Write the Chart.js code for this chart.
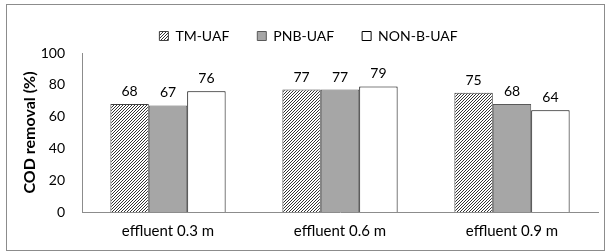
<!DOCTYPE html>
<html>
<head>
<meta charset="utf-8">
<script src="https://cdn.jsdelivr.net/npm/chart.js@4"></script>
<style>
  body { margin: 0; background: #fff; }
  #frame { position: absolute; left: 6px; top: 4px; width: 597px; height: 245px; border: 1px solid #8c8c8c; }
  #wrap { position: absolute; left: 0; top: 0; width: 610px; height: 252px; }
</style>
</head>
<body>
<div id="frame"></div>
<div id="wrap"><canvas id="c" width="610" height="252"></canvas></div>
<script>
const categories = ["effluent 0.3 m", "effluent 0.6 m", "effluent 0.9 m"];
const seriesNames = ["TM-UAF", "PNB-UAF", "NON-B-UAF"];
const tmUaf = [68, 77, 75];
const pnbUaf = [67, 77, 68];
const nonBUaf = [76, 79, 64];
const yTicks = [0, 20, 40, 60, 80, 100];

const FONT = "Lato, 'Open Sans', sans-serif";

// fine diagonal hatch for the first series
function hatch() {
  const p = document.createElement("canvas");
  p.width = 3; p.height = 3;
  const g = p.getContext("2d");
  g.fillStyle = "#fff"; g.fillRect(0, 0, 3, 3);
  g.fillStyle = "#333";
  for (let x = 0; x < 3; x++) for (let y = 0; y < 3; y++) {
    if ((x + y) % 3 == 2) g.fillRect(x, y, 1, 1);
  }
  return g.createPattern(p, "repeat");
}

// value labels above bars
const barLabels = {
  id: "barLabels",
  afterDatasetsDraw(chart) {
    const ctx = chart.ctx;
    ctx.save();
    ctx.font = "14px " + FONT;
    ctx.fillStyle = "#000";
    ctx.textAlign = "center";
    ctx.textBaseline = "alphabetic";
    chart.data.datasets.forEach((ds, i) => {
      chart.getDatasetMeta(i).data.forEach((bar, j) => {
        ctx.fillText(ds.data[j], bar.x, bar.y - 8);
      });
    });
    ctx.restore();
  }
};

const ctx = document.getElementById("c").getContext("2d");
new Chart(ctx, {
  type: "bar",
  data: {
    labels: categories,
    datasets: [
      { label: seriesNames[0], data: tmUaf, backgroundColor: hatch(), borderColor: "#404040", borderWidth: 1 },
      { label: seriesNames[1], data: pnbUaf, backgroundColor: "#a6a6a6", borderColor: "#595959", borderWidth: 1 },
      { label: seriesNames[2], data: nonBUaf, backgroundColor: "#ffffff", borderColor: "#000000", borderWidth: 1 }
    ]
  },
  options: {
    responsive: false,
    animation: false,
    layout: { padding: { left: 19, right: 12, top: 1, bottom: 4 } },
    datasets: { bar: { categoryPercentage: 0.67, barPercentage: 1 } },
    plugins: {
      legend: {
        position: "top",
        labels: { font: { size: 14, family: FONT }, color: "#000", boxWidth: 9, boxHeight: 9, padding: 28 }
      },
      tooltip: { enabled: false }
    },
    scales: {
      x: {
        afterFit: s => { s.height = 36; },
        grid: { display: false, drawTicks: false },
        border: { color: "#8c8c8c" },
        ticks: { font: { size: 15, family: FONT }, color: "#000", padding: 10 }
      },
      y: {
        min: 0, max: 100,
        afterBuildTicks: s => { s.ticks = yTicks.map(v => ({ value: v })); },
        afterFit: s => { s.width = 63; },
        grid: { display: false, drawTicks: false },
        border: { color: "#8c8c8c" },
        ticks: { font: { size: 14, family: FONT }, color: "#000", padding: 17 },
        title: { display: true, text: "COD removal (%)", font: { size: 16, weight: "bold", family: FONT }, color: "#000", padding: { top: 1, bottom: 0 } }
      }
    }
  },
  plugins: [barLabels]
});
</script>
</body>
</html>
